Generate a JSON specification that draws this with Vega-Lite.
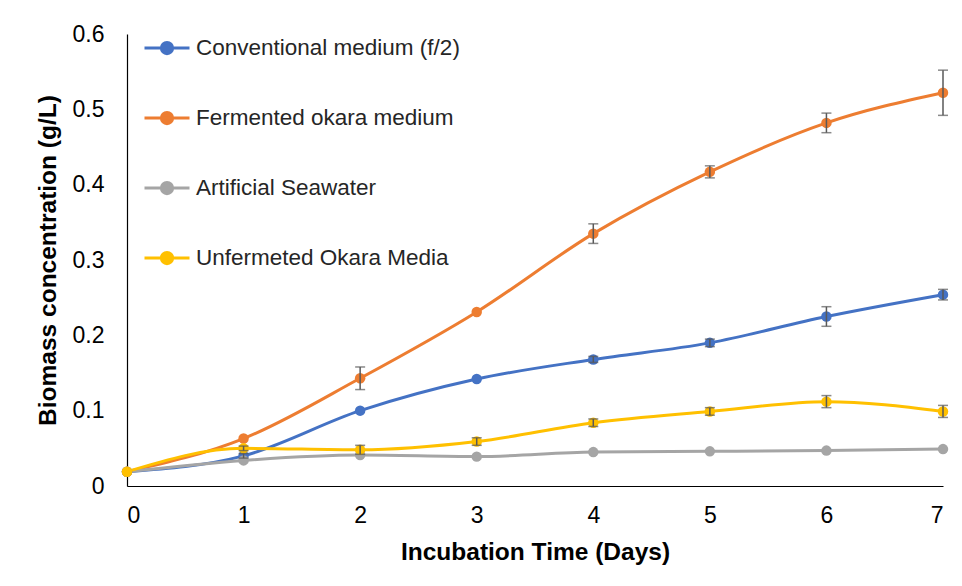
{
  "$schema": "https://vega.github.io/schema/vega-lite/v6.json",
  "autosize": {"type": "none"},
  "width": 816,
  "height": 452,
  "padding": {"left": 127, "top": 34, "right": 19, "bottom": 100},
  "background": "white",
  "config": {
    "view": {"stroke": null},
    "font": "Liberation Sans",
    "axis": {
      "grid": false,
      "ticks": false,
      "domainColor": "#000000",
      "domainWidth": 1.2,
      "labelFont": "Liberation Sans",
      "labelFontSize": 23,
      "labelColor": "#000000",
      "titleFont": "Liberation Sans",
      "titleFontSize": 24.5,
      "titleFontWeight": "bold",
      "titleColor": "#000000"
    }
  },
  "data": {
    "values": [
      {"series": "Conventional medium (f/2)", "day": 0, "value": 0.019, "err": 0.001},
      {"series": "Conventional medium (f/2)", "day": 1, "value": 0.040, "err": 0.003},
      {"series": "Conventional medium (f/2)", "day": 2, "value": 0.100, "err": 0.002},
      {"series": "Conventional medium (f/2)", "day": 3, "value": 0.142, "err": 0.002},
      {"series": "Conventional medium (f/2)", "day": 4, "value": 0.168, "err": 0.004},
      {"series": "Conventional medium (f/2)", "day": 5, "value": 0.190, "err": 0.005},
      {"series": "Conventional medium (f/2)", "day": 6, "value": 0.225, "err": 0.013},
      {"series": "Conventional medium (f/2)", "day": 7, "value": 0.254, "err": 0.007},
      {"series": "Fermented okara medium", "day": 0, "value": 0.019, "err": 0.001},
      {"series": "Fermented okara medium", "day": 1, "value": 0.063, "err": 0.002},
      {"series": "Fermented okara medium", "day": 2, "value": 0.143, "err": 0.015},
      {"series": "Fermented okara medium", "day": 3, "value": 0.231, "err": 0.002},
      {"series": "Fermented okara medium", "day": 4, "value": 0.335, "err": 0.013},
      {"series": "Fermented okara medium", "day": 5, "value": 0.417, "err": 0.008},
      {"series": "Fermented okara medium", "day": 6, "value": 0.482, "err": 0.013},
      {"series": "Fermented okara medium", "day": 7, "value": 0.522, "err": 0.030},
      {"series": "Artificial Seawater", "day": 0, "value": 0.019, "err": 0.001},
      {"series": "Artificial Seawater", "day": 1, "value": 0.034, "err": 0.001},
      {"series": "Artificial Seawater", "day": 2, "value": 0.041, "err": 0.001},
      {"series": "Artificial Seawater", "day": 3, "value": 0.039, "err": 0.001},
      {"series": "Artificial Seawater", "day": 4, "value": 0.045, "err": 0.001},
      {"series": "Artificial Seawater", "day": 5, "value": 0.046, "err": 0.001},
      {"series": "Artificial Seawater", "day": 6, "value": 0.047, "err": 0.001},
      {"series": "Artificial Seawater", "day": 7, "value": 0.049, "err": 0.001},
      {"series": "Unfermeted Okara Media", "day": 0, "value": 0.019, "err": 0.001},
      {"series": "Unfermeted Okara Media", "day": 1, "value": 0.050, "err": 0.003},
      {"series": "Unfermeted Okara Media", "day": 2, "value": 0.048, "err": 0.006},
      {"series": "Unfermeted Okara Media", "day": 3, "value": 0.059, "err": 0.005},
      {"series": "Unfermeted Okara Media", "day": 4, "value": 0.084, "err": 0.005},
      {"series": "Unfermeted Okara Media", "day": 5, "value": 0.099, "err": 0.005},
      {"series": "Unfermeted Okara Media", "day": 6, "value": 0.112, "err": 0.008},
      {"series": "Unfermeted Okara Media", "day": 7, "value": 0.099, "err": 0.008}
    ]
  },
  "encoding": {
    "x": {
      "field": "day", "type": "quantitative",
      "scale": {"domain": [0, 7], "nice": false, "zero": false},
      "axis": {"values": [0, 1, 2, 3, 4, 5, 6, 7], "format": "d", "title": "Incubation Time (Days)", "labelPadding": 18, "titlePadding": 13}
    },
    "y": {
      "field": "value", "type": "quantitative",
      "scale": {"domain": [0, 0.6], "nice": false},
      "axis": {"values": [0, 0.1, 0.2, 0.3, 0.4, 0.5, 0.6], "format": ".1~f", "title": "Biomass concentration (g/L)", "labelPadding": 23, "titlePadding": 12}
    }
  },
  "layer": [
    {
      "mark": {"type": "line", "interpolate": "monotone", "strokeWidth": 3},
      "encoding": {
        "color": {
          "field": "series", "type": "nominal",
          "scale": {
            "domain": ["Conventional medium (f/2)", "Fermented okara medium", "Artificial Seawater", "Unfermeted Okara Media"],
            "range": ["#4472C4", "#ED7D31", "#A5A5A5", "#FFC000"]
          },
          "legend": {
            "title": null,
            "orient": "none",
            "legendX": 16,
            "legendY": -10,
            "symbolType": "M-1,0H1M-0.25,0A0.25,0.25,0,1,0,0.25,0A0.25,0.25,0,1,0,-0.25,0Z",
            "symbolSize": 2025,
            "symbolStrokeWidth": 3,
            "labelFont": "Liberation Sans",
            "labelFontSize": 22.5,
            "labelColor": "#262626",
            "labelOffset": 5,
            "rowPadding": 34,
            "labelLimit": 400,
            "encode": {
              "symbols": {
                "update": {
                  "fill": {"scale": "color", "field": "value"},
                  "stroke": {"scale": "color", "field": "value"},
                  "opacity": {"value": 1}
                }
              }
            }
          }
        },
        "order": {"field": "day"}
      }
    },
    {
      "mark": {"type": "point", "filled": true, "size": 110, "opacity": 1},
      "encoding": {"color": {"field": "series", "type": "nominal"}}
    },
    {
      "mark": {"type": "rule", "color": "#595959", "strokeWidth": 1.5},
      "encoding": {
        "y": {"field": "lo", "type": "quantitative"},
        "y2": {"field": "hi"}
      },
      "transform": [
        {"filter": "datum.err > 0.002"},
        {"calculate": "datum.value - datum.err", "as": "lo"},
        {"calculate": "datum.value + datum.err", "as": "hi"}
      ]
    },
    {
      "mark": {"type": "tick", "orient": "horizontal", "color": "#595959", "thickness": 1.5, "size": 10},
      "encoding": {"y": {"field": "lo", "type": "quantitative"}},
      "transform": [
        {"filter": "datum.err > 0.002"},
        {"calculate": "datum.value - datum.err", "as": "lo"}
      ]
    },
    {
      "mark": {"type": "tick", "orient": "horizontal", "color": "#595959", "thickness": 1.5, "size": 10},
      "encoding": {"y": {"field": "hi", "type": "quantitative"}},
      "transform": [
        {"filter": "datum.err > 0.002"},
        {"calculate": "datum.value + datum.err", "as": "hi"}
      ]
    }
  ]
}
